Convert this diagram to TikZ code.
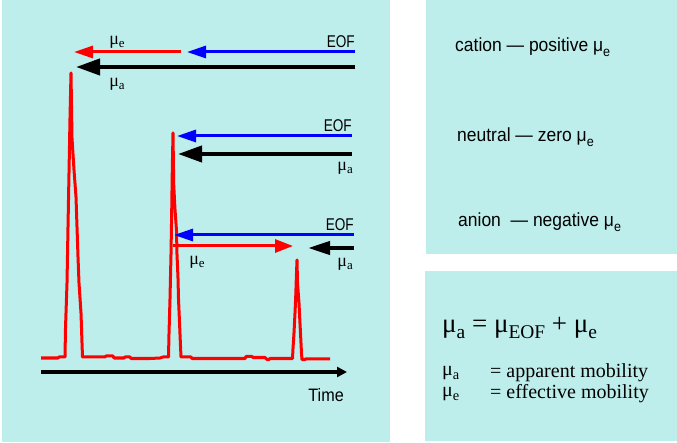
\documentclass[tikz,border=0pt]{standalone}
\usepackage{fontspec}
\setmainfont{Liberation Serif}
\newfontfamily\narrow[FakeStretch=0.8]{Liberation Sans}
\newfontfamily\timefont[FakeStretch=0.9]{Liberation Sans}
\newfontfamily\rfont[FakeStretch=0.92]{Liberation Sans}
\usetikzlibrary{arrows.meta}
\definecolor{panel}{RGB}{190,238,236}
\newcommand\mysub[1]{\raisebox{-0.45ex}{\scalebox{0.72}{#1}}}
\begin{document}
\begin{tikzpicture}[x=1pt,y=-1pt,
  eoflab/.style={font=\narrow\fontsize{17}{19}\selectfont, anchor=east, inner sep=0},
  timelab/.style={font=\timefont\fontsize{18}{20}\selectfont, anchor=east, inner sep=0},
  mulab/.style={font=\fontsize{18}{20}\selectfont, inner sep=0},
  rtext/.style={font=\rfont\fontsize{19}{22}\selectfont, anchor=west, inner sep=0},
  eqn/.style={font=\fontsize{27}{31}\selectfont, anchor=west, inner sep=0},
  defn/.style={font=\fontsize{20}{23}\selectfont, anchor=west, inner sep=0},
  bluearr/.style={draw=blue, line width=3pt, -{Triangle[length=19pt,width=12pt]}},
  blackarr/.style={draw=black, line width=4pt, -{Triangle[length=24pt,width=16pt]}},
  redarr/.style={draw=red, line width=3pt, -{Triangle[length=19pt,width=12pt]}},
  trace/.style={draw=red, line width=3pt, line join=round},
]
\useasboundingbox (0,0) rectangle (677,443);
\fill[panel] (2,0) rectangle (390,442);
\fill[panel] (426,0) rectangle (677,254);
\fill[panel] (425,271) rectangle (677,441);

% chromatogram trace
\draw[trace] (41,358) -- (58,358) -- (59,357) -- (65,357)
  -- (65.5,328) -- (67,283) -- (68,227) -- (69,173) -- (70,118) -- (71,73)
  -- (72,138) -- (74,170) -- (76,197) -- (77,227) -- (78,257) -- (79,283) -- (81,313) -- (82,343) -- (82.5,357)
  -- (105,357) -- (106,356) -- (113,356) -- (114,358) -- (124,358) -- (125,357) -- (130,357) -- (131,358.5)
  -- (150,358.5) -- (160,358) -- (163,357) -- (168.5,357)
  -- (169,334) -- (170,298.7) -- (171,254.5) -- (171.7,211.8) -- (172.3,169.3) -- (173,133)
  -- (173.7,184.3) -- (175,209.5) -- (176.5,230.8) -- (177,254.4) -- (178,278.1) -- (178.5,298.7) -- (179.5,322.3) -- (180.5,346) -- (181,357)
  -- (191,357) -- (192,358.5) -- (245,358.5) -- (246,356.5) -- (252,356.5) -- (253,357.5) -- (265,357.5)
  -- (267,359.5) -- (269,359.5) -- (270,358.5) -- (292.5,358.5)
  -- (293,348.5) -- (294,332.9) -- (295,313.2) -- (295.8,294.5) -- (296.4,276) -- (297,260)
  -- (297.5,282.6) -- (298.3,293.7) -- (299,303) -- (299.5,313.4) -- (300,323.8) -- (300.5,332.9) -- (301,343.2) -- (301.5,353.7) -- (302,359.5)
  -- (305,359.5) -- (306,358.8) -- (330,358.8);

% time axis
\coordinate (t0) at (41,372);
\coordinate (t1) at (347,372);
\draw[line width=4pt, -{Triangle[length=10pt,width=10pt]}] (t0) -- (t1);
\node[timelab] (time) at (344,395) {Time};

% group 1 (cation)
\coordinate (b1s) at (355,52); \coordinate (b1e) at (187,52);
\coordinate (r1s) at (181,52); \coordinate (r1e) at (74,52);
\coordinate (k1s) at (355,67); \coordinate (k1e) at (76,67);
\draw[bluearr] (b1s) -- (b1e);
\draw[redarr] (r1s) -- (r1e);
\draw[blackarr] (k1s) -- (k1e);
\node[eoflab] (eof1) at (355,42) {EOF};
\node[mulab] (mue1) at (117,42) {μ\mysub{e}};
\node[mulab] (mua1) at (117,84) {μ\mysub{a}};

% group 2 (neutral)
\coordinate (b2s) at (352,136); \coordinate (b2e) at (177,136);
\coordinate (k2s) at (352,154); \coordinate (k2e) at (178,154);
\draw[bluearr] (b2s) -- (b2e);
\draw[blackarr] (k2s) -- (k2e);
\node[eoflab] (eof2) at (352,126) {EOF};
\node[mulab, anchor=east] (mua2) at (353,168) {μ\mysub{a}};

% group 3 (anion)
\coordinate (b3s) at (354,235); \coordinate (b3e) at (174,235);
\coordinate (r3s) at (173,246); \coordinate (r3e) at (293,246);
\coordinate (k3s) at (354,248); \coordinate (k3e) at (308,248);
\draw[bluearr] (b3s) -- (b3e);
\draw[draw=red, line width=3pt, -{Triangle[length=18pt,width=13pt]}] (r3s) -- (r3e);
\draw[line width=4pt, -{Triangle[length=22pt,width=13pt]}] (k3s) -- (k3e);
\node[eoflab] (eof3) at (354,225) {EOF};
\node[mulab] (mue3) at (197,262) {μ\mysub{e}};
\node[mulab, anchor=east] (mua3) at (353,264) {μ\mysub{a}};

% right upper panel
\node[rtext] (cat) at (455,47) {cation — positive μ\mysub{e}};
\node[rtext] (neu) at (457,137) {neutral — zero μ\mysub{e}};
\node[rtext] (ani) at (458,222) {anion~ — negative μ\mysub{e}};

% right lower panel
\node[eqn] (eq) at (442,328) {μ\mysub{a} = μ\mysub{EOF} + μ\mysub{e}};
\node[defn] (da) at (442,373) {μ\mysub{a}};
\node[defn] (dat) at (490,373) {= apparent mobility};
\node[defn] (de) at (442,394) {μ\mysub{e}};
\node[defn] (det) at (490,394) {= effective mobility};
\end{tikzpicture}
\end{document}
